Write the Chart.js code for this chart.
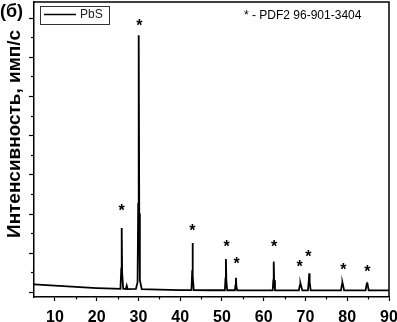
<!DOCTYPE html>
<html>
<head>
<meta charset="utf-8">
<script src="https://cdn.jsdelivr.net/npm/chart.js@4.4.1/dist/chart.umd.min.js"></script>
<style>
  body { margin: 0; background: #fff; }
  canvas { display: block; }
</style>
</head>
<body>
<canvas id="xrd" width="397" height="322"></canvas>
<script>
// 2θ (deg) and intensity (arb. units)
const twoTheta = [5, 10, 15, 20, 24, 25.7, 25.9, 26.0, 26.1, 26.35, 27.0, 27.2, 27.4, 29.4, 29.8, 29.95, 30.07, 30.2, 30.35, 30.8, 35, 40,
  42.7, 42.85, 42.95, 43.05, 43.25, 47, 50.7, 50.85, 50.95, 51.05, 51.25, 53.1, 53.25, 53.35, 53.45, 53.65, 58,
  62.15, 62.3, 62.4, 62.5, 62.7, 66, 68.4, 68.7, 68.8, 68.95, 69.25, 70.6, 70.8, 70.9, 71.0, 71.25, 75,
  78.5, 78.75, 78.85, 79.0, 79.25, 82, 84.4, 84.65, 84.75, 84.9, 85.15, 90];
const intensity = [0.39, 0.33, 0.26, 0.2, 0.17, 0.16, 1.2, 3.27, 1.0, 0.17, 0.15, 0.32, 0.15, 0.16, 0.5, 4.5, 13.1, 4.0, 0.6, 0.15, 0.12, 0.1,
  0.1, 0.9, 2.5, 0.8, 0.1, 0.09, 0.09, 0.7, 1.68, 0.6, 0.09, 0.09, 0.35, 0.73, 0.3, 0.09, 0.08,
  0.08, 0.6, 1.55, 0.6, 0.08, 0.08, 0.08, 0.38, 0.44, 0.3, 0.08, 0.08, 0.6, 0.95, 0.5, 0.08, 0.08,
  0.08, 0.4, 0.49, 0.35, 0.08, 0.08, 0.08, 0.4, 0.44, 0.35, 0.08, 0.08];

// reflex markers (*) : position in data units
const starX = [26.0, 30.2, 42.9, 51.1, 53.5, 62.5, 68.6, 70.7, 79.1, 84.8];
const starY = [4.29, 13.74, 3.27, 2.5, 1.63, 2.45, 1.43, 1.94, 1.28, 1.22];

const xTicks = [10, 20, 30, 40, 50, 60, 70, 80, 90];
const xMinorTicks = [15, 25, 35, 45, 55, 65, 75, 85];
const yTicks = [0, 1, 2, 3, 4, 5, 6, 7, 8, 9, 10, 11, 12, 13, 14];

const seriesName = 'PbS';
const noteText = '* - PDF2 96-901-3404';
const panelText = '(б)';
const yTitle = 'Интенсивность, имп/с';

const FONT = "'Liberation Sans', Arial, sans-serif";

const decorPlugin = {
  id: 'decor',
  afterDraw(chart) {
    const { ctx, chartArea: a, scales: { x, y } } = chart;
    ctx.save();
    ctx.strokeStyle = '#000';
    ctx.fillStyle = '#000';

    // frame top/right
    ctx.lineWidth = 1.5;
    ctx.beginPath();
    ctx.moveTo(a.left, a.top);
    ctx.lineTo(a.right, a.top);
    ctx.lineTo(a.right, a.bottom);
    ctx.stroke();

    // y ticks: long on even values, short on odd
    ctx.lineWidth = 1.2;
    yTicks.forEach(v => {
      const py = Math.round(y.getPixelForValue(v)) + 0.5;
      const len = v % 2 === 0 ? 5 : 3;
      ctx.beginPath();
      ctx.moveTo(a.left - len, py);
      ctx.lineTo(a.left, py);
      ctx.stroke();
    });

    // x minor ticks
    xMinorTicks.forEach(v => {
      const px = Math.round(x.getPixelForValue(v)) + 0.5;
      ctx.beginPath();
      ctx.moveTo(px, a.bottom);
      ctx.lineTo(px, a.bottom + 2.5);
      ctx.stroke();
    });

    // asterisks above peaks
    ctx.font = 'bold 16px ' + FONT;
    ctx.textAlign = 'center';
    ctx.textBaseline = 'alphabetic';
    const m = ctx.measureText('*');
    const mid = (m.actualBoundingBoxAscent - m.actualBoundingBoxDescent) / 2;
    starX.forEach((sx, i) => {
      ctx.fillText('*', x.getPixelForValue(sx), y.getPixelForValue(starY[i]) + mid);
    });

    // legend
    ctx.lineWidth = 1;
    ctx.strokeStyle = '#333';
    ctx.strokeRect(40.5, 6.5, 69, 18);
    ctx.strokeStyle = '#000';
    ctx.lineWidth = 1.5;
    ctx.beginPath();
    ctx.moveTo(44, 14.5);
    ctx.lineTo(76, 14.5);
    ctx.stroke();
    ctx.font = '12px ' + FONT;
    ctx.textAlign = 'left';
    ctx.textBaseline = 'middle';
    ctx.fillStyle = '#222';
    ctx.fillText(seriesName, 80, 15);

    // reference note
    ctx.fillStyle = '#000';
    ctx.font = '12px ' + FONT;
    ctx.fillText(noteText, 244, 16);

    // panel letter
    ctx.font = 'bold 18px ' + FONT;
    ctx.fillText(panelText, 0, 12);

    // rotated y title, stretched to its length in the picture
    ctx.font = 'bold 19px ' + FONT;
    const w = ctx.measureText(yTitle).width;
    ctx.translate(15, 134);
    ctx.rotate(-Math.PI / 2);
    ctx.scale(208 / w, 1);
    ctx.textAlign = 'center';
    ctx.fillText(yTitle, 0, 0);

    ctx.restore();
  }
};

new Chart(document.getElementById('xrd'), {
  type: 'line',
  data: {
    datasets: [{
      label: seriesName,
      data: twoTheta.map((t, i) => ({ x: t, y: intensity[i] })),
      borderColor: '#000',
      borderWidth: 1.8,
      pointRadius: 0,
      tension: 0,
      fill: false
    }]
  },
  options: {
    responsive: false,
    animation: false,
    layout: { padding: { top: 2, right: 8, left: 0, bottom: 0 } },
    plugins: {
      legend: { display: false },
      tooltip: { enabled: false }
    },
    scales: {
      x: {
        type: 'linear',
        min: 5,
        max: 90,
        afterBuildTicks: s => { s.ticks = xTicks.map(v => ({ value: v })); },
        afterFit: s => { s.height = 25; s.paddingRight = 0; s.paddingLeft = 0; },
        ticks: {
          color: '#000',
          font: { family: FONT, size: 16, weight: 'bold' },
          padding: 7,
          maxRotation: 0
        },
        grid: {
          drawOnChartArea: false,
          tickLength: 4,
          tickColor: '#000',
          tickWidth: 1.2
        },
        border: { color: '#000', width: 1.5 }
      },
      y: {
        min: -0.255,
        max: 14.8,
        afterBuildTicks: s => { s.ticks = yTicks.map(v => ({ value: v })); },
        afterFit: s => { s.width = 34; },
        ticks: { display: false },
        grid: { display: false },
        border: { display: true, color: '#000', width: 1.5 }
      }
    }
  },
  plugins: [decorPlugin]
});
</script>
</body>
</html>
